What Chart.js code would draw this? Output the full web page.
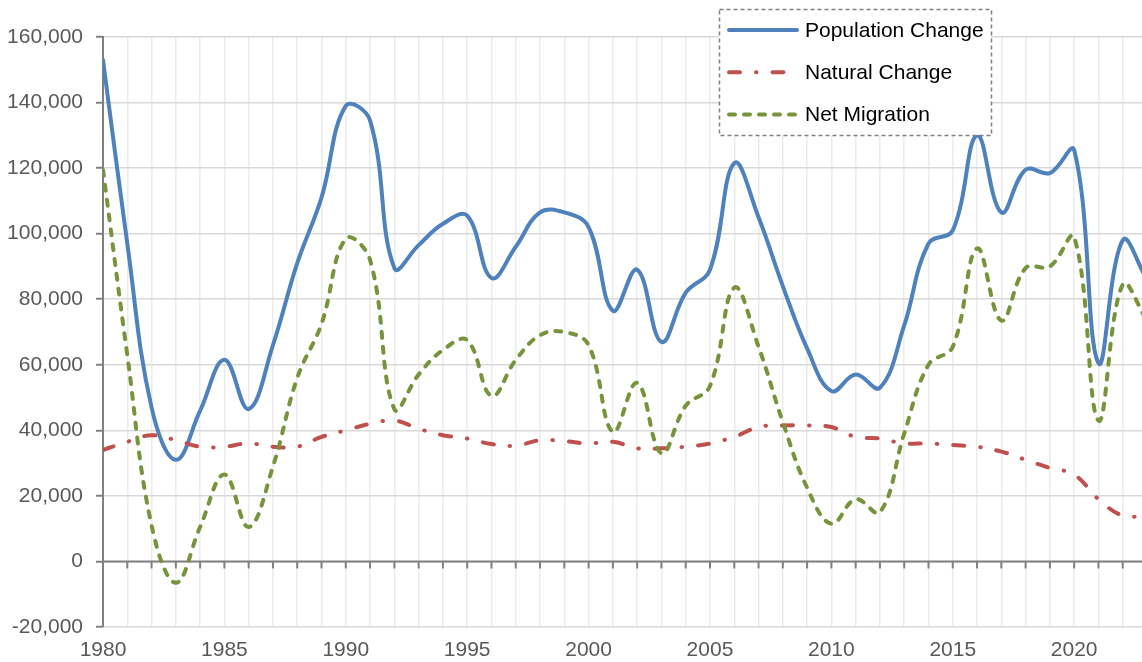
<!DOCTYPE html>
<html>
<head>
<meta charset="utf-8">
<script src="https://cdn.jsdelivr.net/npm/chart.js@4/dist/chart.umd.min.js"></script>
<style>
  html, body { margin: 0; padding: 0; background: #fff; overflow: hidden; }
  #myChart { display: block; }
</style>
</head>
<body>
<canvas id="myChart" width="1147" height="662"></canvas>
<script>
// Data
const years = [];
for (let y = 1980; y <= 2023; y++) years.push(y);

const populationChange = [
    153000, 97000, 47000, 31000, 46000, 61500, 46500, 66000, 91000, 111000,
    139000, 134500, 89500, 96500, 103000, 105500, 86500, 96000, 106500, 106500,
    102000, 76500, 89000, 67000, 82000, 89000, 121500, 105000, 84000, 65000,
    52000, 57000, 53000, 72000, 97000, 101000, 130000, 106500, 119500, 118500,
    125500, 60500, 98000, 86000
];
const naturalChange = [
    34000, 36500, 38500, 37000, 35000, 35000, 36000, 35000, 35000, 38000,
    40000, 42000, 43000, 40500, 38500, 37500, 35800, 35300, 37000, 36700,
    36000, 36500, 34500, 34500, 35000, 36000, 38000, 41000, 41500, 41500,
    41000, 38000, 37500, 36000, 36000, 35500, 35000, 33500, 31000, 28500,
    26500, 19000, 14000, 14000
];
const netMigration = [
    119500, 63000, 11000, -6500, 10500, 26500, 10500, 29000, 56000, 72500,
    98500, 92000, 46500, 57000, 64500, 67500, 50500, 61500, 69000, 70000,
    66000, 39500, 54500, 33000, 47500, 53500, 83500, 65500, 42500, 22500,
    11500, 19000, 15000, 39000, 60000, 65500, 95500, 73500, 89500, 90000,
    99000, 43000, 84500, 73500
];

const FONT = "'Liberation Sans', Arial, sans-serif";
const AXIS_GREY = "#808080";
const TEXT_GREY = "#595959";

function toPoints(arr) {
    return arr.map((v, i) => ({ x: years[i], y: v }));
}

// zero axis line + the small tick marks hanging under it
const zeroAxis = {
    id: "zeroAxis",
    beforeDatasetsDraw(chart) {
        const { ctx, chartArea, scales } = chart;
        const y0 = scales.y.getPixelForValue(0);
        ctx.save();
        ctx.strokeStyle = AXIS_GREY;
        ctx.lineWidth = 2;
        ctx.beginPath();
        ctx.moveTo(chartArea.left, y0);
        ctx.lineTo(chartArea.right, y0);
        ctx.stroke();
        for (let yr = 1981; yr <= 2023; yr++) {
            const x = scales.x.getPixelForValue(yr);
            ctx.beginPath();
            ctx.moveTo(x, y0);
            ctx.lineTo(x, y0 + 7);
            ctx.stroke();
        }
        ctx.restore();
    }
};

// boxed legend sitting inside the plot, top right
const boxLegend = {
    id: "boxLegend",
    afterDraw(chart) {
        const { ctx } = chart;
        const left = 719, top = 9, w = 272, h = 126;
        ctx.save();
        ctx.fillStyle = "#fff";
        ctx.fillRect(left, top, w, h);
        ctx.setLineDash([4, 3]);
        ctx.strokeStyle = AXIS_GREY;
        ctx.lineWidth = 1.5;
        ctx.strokeRect(left + 0.5, top + 0.5, w, h);
        chart.data.datasets.forEach((ds, i) => {
            const cy = 30 + i * 42.3;
            ctx.setLineDash(ds.borderDash || []);
            ctx.lineCap = ds.borderCapStyle || "butt";
            ctx.strokeStyle = ds.borderColor;
            ctx.lineWidth = ds.borderWidth;
            ctx.beginPath();
            ctx.moveTo(729, cy);
            ctx.lineTo(797, cy);
            ctx.stroke();
            ctx.setLineDash([]);
            ctx.fillStyle = "#000";
            ctx.font = "21px " + FONT;
            ctx.textBaseline = "middle";
            ctx.textAlign = "left";
            ctx.fillText(ds.label, 805, cy + 1);
        });
        ctx.restore();
    }
};

const myChart = new Chart("myChart", {
    type: "line",
    data: {
        datasets: [
            {
                label: "Population Change",
                data: toPoints(populationChange),
                borderColor: "#4F81BD",
                borderWidth: 4,
                borderCapStyle: "round",
                order: 3,
            },
            {
                label: "Natural Change",
                data: toPoints(naturalChange),
                borderColor: "#C0504D",
                borderWidth: 4,
                borderCapStyle: "round",
                borderDash: [11, 16, 0.5, 16],
                order: 2,
            },
            {
                label: "Net Migration",
                data: toPoints(netMigration),
                borderColor: "#77933C",
                borderWidth: 4,
                borderCapStyle: "round",
                borderDash: [6, 9],
                order: 1,
            },
        ],
    },
    options: {
        responsive: false,
        devicePixelRatio: 1,
        animation: false,
        layout: { autoPadding: false, padding: { top: 37, right: 0, bottom: 0, left: 0 } },
        elements: {
            point: { radius: 0 },
            line: { tension: 0.4, fill: false },
        },
        plugins: {
            legend: { display: false },
            tooltip: { enabled: false },
        },
        scales: {
            x: {
                type: "linear",
                min: 1980,
                max: 2023,
                afterFit: (scale) => {
                    scale.height = 35;
                    scale.paddingLeft = 0;
                    scale.paddingRight = 0;
                },
                grid: { color: "#ececec", lineWidth: 1.5, drawTicks: false },
                border: { display: false },
                ticks: {
                    stepSize: 1,
                    autoSkip: false,
                    maxRotation: 0,
                    padding: 11,
                    color: TEXT_GREY,
                    font: { family: FONT, size: 21 },
                    callback: (v) => (v % 5 === 0 && v < 2023 ? String(v) : ""),
                },
            },
            y: {
                min: -20000,
                max: 160000,
                afterFit: (scale) => { scale.width = 103; },
                grid: {
                    color: "#d9d9d9",
                    lineWidth: 1.5,
                    tickLength: 7,
                    tickColor: AXIS_GREY,
                    tickWidth: 2,
                },
                border: { display: true, color: AXIS_GREY, width: 2 },
                ticks: {
                    stepSize: 20000,
                    padding: 13,
                    color: TEXT_GREY,
                    font: { family: FONT, size: 21 },
                    callback: (v) => v.toLocaleString("en-US"),
                },
            },
        },
    },
    plugins: [zeroAxis, boxLegend],
});
</script>
</body>
</html>
